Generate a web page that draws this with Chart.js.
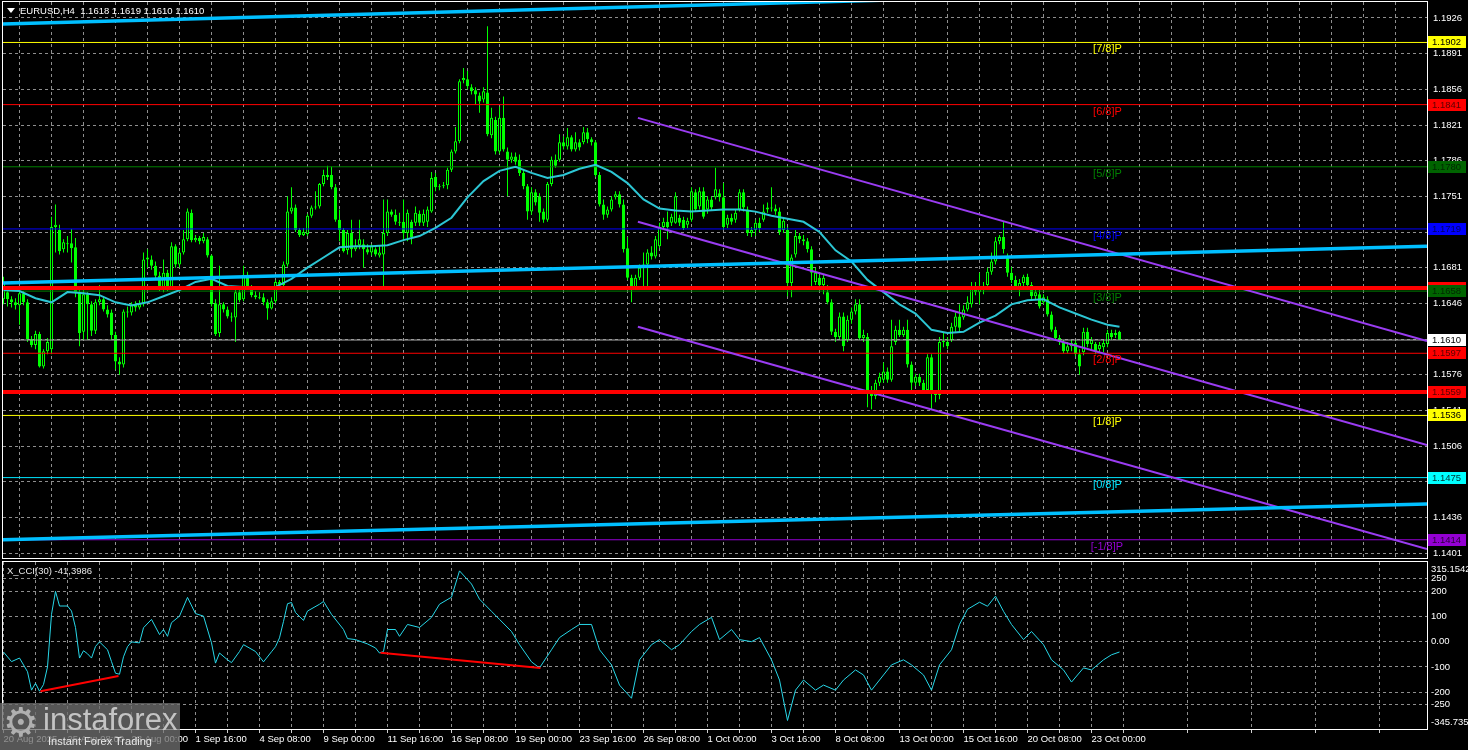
<!DOCTYPE html>
<html>
<head>
<meta charset="utf-8">
<title>EURUSD,H4</title>
<script src="https://cdn.jsdelivr.net/npm/chart.js@4.4.1/dist/chart.umd.min.js"></script>
<style>
  html, body { margin: 0; padding: 0; background: #000; }
  #wrap { position: relative; width: 1468px; height: 750px; overflow: hidden; background: #000; }
  #priceChart { position: absolute; left: 0; top: 0; }
  #cciChart { position: absolute; left: 0; top: 560px; }
  .txt { position: absolute; color: #fff; font: 9.5px 'Liberation Sans', Arial, sans-serif; white-space: pre; }
  .tri { display: inline-block; width: 0; height: 0; border-left: 4px solid transparent; border-right: 4px solid transparent; border-top: 5px solid #fff; margin-right: 5px; vertical-align: 1px; }
  #logo { position: absolute; left: 0; top: 703px; width: 180px; height: 47px; background: rgba(110, 110, 110, 0.78); }
  #logo .gear { position: absolute; left: 3px; top: -4px; font: 40px 'DejaVu Sans', sans-serif; color: #b0b0b0; }
  #logo .brand { position: absolute; left: 43px; top: -1px; font: 31px 'Liberation Sans', Arial, sans-serif; color: #c4c4c4; }
  #logo .tag { position: absolute; left: 48px; top: 32px; font: 11px 'Liberation Sans', Arial, sans-serif; color: #e8e8e8; }
</style>
</head>
<body>
<div id="wrap">
  <canvas id="priceChart" width="1468" height="560"></canvas>
  <canvas id="cciChart" width="1468" height="190"></canvas>
  <div class="txt" style="left:7px; top:5px;"><span class="tri"></span>EURUSD,H4  1.1618 1.1619 1.1610 1.1610</div>
  <div class="txt" style="left:7px; top:565px; color:#e8e8e8;">X_CCI(30) -41,3986</div>
  <div id="logo"><span class="gear">⚙</span><span class="brand">instaforex</span><span class="tag">Instant Forex Trading</span></div>
</div>
<script>
// H4 candles (bar 0 = 20 Aug 2025 16:00)
const opens = [
  1.1650,1.1657,1.1650,1.1647,1.1644,1.1656,1.1647,1.1611,1.1605,1.1616,
  1.1584,1.1599,1.1601,1.1721,1.1718,1.1699,1.1705,1.1705,1.1701,1.1657,
  1.1618,1.1655,1.1645,1.1619,1.1647,1.1650,1.1640,1.1637,1.1615,1.1589,
  1.1586,1.1638,1.1637,1.1645,1.1642,1.1645,1.1689,1.1689,1.1683,1.1673,
  1.1662,1.1676,1.1662,1.1702,1.1684,1.1696,1.1709,1.1735,1.1708,1.1710,
  1.1707,1.1709,1.1693,1.1646,1.1617,1.1645,1.1640,1.1633,1.1632,1.1657,
  1.1650,1.1674,1.1662,1.1654,1.1652,1.1652,1.1647,1.1641,1.1648,1.1667,
  1.1664,1.1684,1.1736,1.1740,1.1718,1.1713,1.1714,1.1732,1.1740,1.1741,
  1.1763,1.1772,1.1772,1.1760,1.1728,1.1718,1.1698,1.1715,1.1699,1.1703,
  1.1704,1.1699,1.1696,1.1699,1.1693,1.1694,1.1715,1.1736,1.1733,1.1726,
  1.1726,1.1715,1.1726,1.1725,1.1734,1.1725,1.1726,1.1736,1.1770,1.1760,
  1.1761,1.1762,1.1777,1.1795,1.1805,1.1865,1.1866,1.1858,1.1855,1.1850,
  1.1846,1.1853,1.1811,1.1826,1.1795,1.1828,1.1795,1.1787,1.1790,1.1787,
  1.1774,1.1761,1.1736,1.1755,1.1751,1.1736,1.1728,1.1763,1.1787,1.1787,
  1.1804,1.1800,1.1809,1.1797,1.1804,1.1804,1.1814,1.1807,1.1804,1.1772,
  1.1743,1.1733,1.1738,1.1750,1.1753,1.1743,1.1700,1.1671,1.1662,1.1671,
  1.1681,1.1684,1.1696,1.1692,1.1702,1.1721,1.1726,1.1725,1.1725,1.1730,
  1.1728,1.1723,1.1728,1.1755,1.1741,1.1756,1.1738,1.1748,1.1750,1.1754,
  1.1750,1.1723,1.1730,1.1728,1.1738,1.1755,1.1738,1.1715,1.1718,1.1725,
  1.1728,1.1738,1.1740,1.1739,1.1736,1.1718,1.1718,1.1666,1.1694,1.1712,
  1.1709,1.1707,1.1699,1.1667,1.1671,1.1664,1.1657,1.1647,1.1618,1.1613,
  1.1633,1.1610,1.1630,1.1638,1.1645,1.1612,1.1613,1.1561,1.1555,1.1568,
  1.1571,1.1579,1.1571,1.1608,1.1620,1.1615,1.1620,1.1586,1.1568,1.1574,
  1.1568,1.1561,1.1593,1.1557,1.1556,1.1608,1.1608,1.1610,1.1623,1.1633,
  1.1632,1.1640,1.1645,1.1662,1.1657,1.1660,1.1664,1.1677,1.1687,1.1707,
  1.1711,1.1692,1.1676,1.1669,1.1662,1.1666,1.1672,1.1664,1.1653,1.1655,
  1.1647,1.1650,1.1635,1.1620,1.1612,1.1608,1.1599,1.1604,1.1607,1.1596,
  1.1598,1.1618,1.1606,1.1606,1.1601,1.1603,1.1606,1.1617,1.1615,1.1618
];
const highs = [
  1.1672,1.1662,1.1653,1.1651,1.1658,1.1658,1.1650,1.1614,1.1619,1.1618,
  1.1601,1.1612,1.1731,1.1743,1.1723,1.1709,1.1712,1.1719,1.1710,1.1660,
  1.1660,1.1657,1.1648,1.1650,1.1664,1.1652,1.1644,1.1640,1.1618,1.1593,
  1.1640,1.1643,1.1647,1.1648,1.1649,1.1696,1.1699,1.1693,1.1687,1.1677,
  1.1689,1.1679,1.1706,1.1704,1.1699,1.1718,1.1739,1.1738,1.1713,1.1712,
  1.1715,1.1711,1.1694,1.1650,1.1683,1.1647,1.1643,1.1637,1.1660,1.1660,
  1.1683,1.1677,1.1664,1.1658,1.1657,1.1656,1.1650,1.1652,1.1669,1.1669,
  1.1687,1.1751,1.1760,1.1743,1.1720,1.1720,1.1734,1.1742,1.1756,1.1764,
  1.1777,1.1781,1.1780,1.1763,1.1738,1.1720,1.1718,1.1728,1.1709,1.1728,
  1.1709,1.1704,1.1704,1.1701,1.1703,1.1748,1.1748,1.1738,1.1738,1.1735,
  1.1748,1.1738,1.1728,1.1741,1.1737,1.1738,1.1741,1.1775,1.1774,1.1763,
  1.1765,1.1779,1.1797,1.1819,1.1866,1.1877,1.1874,1.1861,1.1858,1.1853,
  1.1858,1.1918,1.1838,1.1829,1.1839,1.1849,1.1799,1.1794,1.1794,1.1792,
  1.1777,1.1763,1.1760,1.1758,1.1754,1.1739,1.1765,1.1790,1.1792,1.1812,
  1.1810,1.1818,1.1811,1.1814,1.1807,1.1819,1.1818,1.1809,1.1806,1.1775,
  1.1748,1.1741,1.1751,1.1756,1.1756,1.1748,1.1711,1.1674,1.1674,1.1684,
  1.1696,1.1699,1.1702,1.1712,1.1725,1.1730,1.1736,1.1734,1.1755,1.1733,
  1.1731,1.1730,1.1760,1.1758,1.1760,1.1760,1.1751,1.1751,1.1779,1.1758,
  1.1764,1.1733,1.1734,1.1738,1.1758,1.1758,1.1741,1.1721,1.1728,1.1730,
  1.1743,1.1745,1.1760,1.1743,1.1740,1.1730,1.1721,1.1694,1.1718,1.1715,
  1.1713,1.1710,1.1702,1.1681,1.1674,1.1674,1.1664,1.1650,1.1621,1.1637,
  1.1637,1.1634,1.1642,1.1650,1.1650,1.1620,1.1617,1.1565,1.1571,1.1578,
  1.1588,1.1583,1.1630,1.1624,1.1630,1.1623,1.1630,1.1589,1.1577,1.1577,
  1.1571,1.1596,1.1596,1.1560,1.1613,1.1617,1.1613,1.1627,1.1637,1.1645,
  1.1644,1.1653,1.1667,1.1667,1.1676,1.1667,1.1681,1.1696,1.1711,1.1713,
  1.1726,1.1695,1.1682,1.1673,1.1670,1.1674,1.1675,1.1667,1.1660,1.1659,
  1.1655,1.1653,1.1638,1.1623,1.1615,1.1610,1.1608,1.1610,1.1610,1.1601,
  1.1622,1.1622,1.1613,1.1608,1.1608,1.1610,1.1620,1.1620,1.1620,1.1619
];
const lows = [
  1.1645,1.1643,1.1642,1.1640,1.1625,1.1644,1.1608,1.1603,1.1601,1.1583,
  1.1582,1.1596,1.1596,1.1696,1.1694,1.1696,1.1696,1.1686,1.1652,1.1604,
  1.1610,1.1610,1.1614,1.1616,1.1644,1.1638,1.1632,1.1610,1.1581,1.1576,
  1.1583,1.1632,1.1634,1.1638,1.1640,1.1643,1.1681,1.1679,1.1669,1.1658,
  1.1657,1.1658,1.1660,1.1681,1.1681,1.1694,1.1707,1.1706,1.1706,1.1704,
  1.1705,1.1691,1.1643,1.1614,1.1613,1.1637,1.1631,1.1628,1.1608,1.1647,
  1.1648,1.1660,1.1652,1.1650,1.1650,1.1644,1.1630,1.1640,1.1646,1.1662,
  1.1662,1.1682,1.1734,1.1716,1.1711,1.1712,1.1712,1.1730,1.1738,1.1739,
  1.1761,1.1767,1.1758,1.1726,1.1707,1.1696,1.1694,1.1691,1.1697,1.1699,
  1.1681,1.1694,1.1693,1.1692,1.1691,1.1661,1.1712,1.1731,1.1723,1.1722,
  1.1707,1.1707,1.1704,1.1722,1.1722,1.1722,1.1721,1.1735,1.1756,1.1757,
  1.1759,1.1758,1.1775,1.1793,1.1803,1.1862,1.1856,1.1851,1.1841,1.1833,
  1.1843,1.1810,1.1808,1.1792,1.1793,1.1795,1.1751,1.1784,1.1782,1.1771,
  1.1758,1.1728,1.1733,1.1742,1.1726,1.1725,1.1726,1.1761,1.1779,1.1785,
  1.1797,1.1797,1.1795,1.1795,1.1796,1.1802,1.1803,1.1801,1.1770,1.1741,
  1.1728,1.1730,1.1736,1.1748,1.1740,1.1696,1.1669,1.1647,1.1660,1.1669,
  1.1662,1.1662,1.1689,1.1690,1.1700,1.1718,1.1709,1.1722,1.1724,1.1722,
  1.1718,1.1720,1.1726,1.1736,1.1738,1.1729,1.1734,1.1737,1.1748,1.1746,
  1.1718,1.1720,1.1723,1.1725,1.1736,1.1736,1.1712,1.1711,1.1712,1.1716,
  1.1726,1.1735,1.1736,1.1733,1.1713,1.1715,1.1653,1.1652,1.1691,1.1705,
  1.1703,1.1696,1.1660,1.1664,1.1661,1.1655,1.1645,1.1615,1.1608,1.1611,
  1.1599,1.1608,1.1626,1.1635,1.1610,1.1608,1.1544,1.1542,1.1552,1.1565,
  1.1568,1.1568,1.1569,1.1605,1.1613,1.1613,1.1583,1.1561,1.1565,1.1565,
  1.1557,1.1559,1.1542,1.1549,1.1552,1.1603,1.1601,1.1608,1.1618,1.1617,
  1.1630,1.1638,1.1642,1.1654,1.1645,1.1655,1.1660,1.1674,1.1684,1.1704,
  1.1695,1.1672,1.1666,1.1660,1.1653,1.1660,1.1661,1.1650,1.1650,1.1641,
  1.1645,1.1633,1.1618,1.1610,1.1605,1.1597,1.1597,1.1599,1.1594,1.1576,
  1.1595,1.1603,1.1601,1.1596,1.1598,1.1598,1.1603,1.1610,1.1612,1.1610
];
const closes = [
  1.1666,1.1650,1.1647,1.1644,1.1656,1.1647,1.1611,1.1605,1.1616,1.1584,
  1.1599,1.1608,1.1721,1.1723,1.1697,1.1706,1.1704,1.1700,1.1657,1.1617,
  1.1655,1.1645,1.1619,1.1647,1.1650,1.1640,1.1635,1.1615,1.1589,1.1586,
  1.1638,1.1637,1.1645,1.1642,1.1645,1.1689,1.1691,1.1683,1.1673,1.1662,
  1.1676,1.1662,1.1702,1.1684,1.1696,1.1709,1.1736,1.1708,1.1710,1.1707,
  1.1711,1.1693,1.1645,1.1616,1.1645,1.1640,1.1633,1.1632,1.1657,1.1649,
  1.1674,1.1662,1.1654,1.1652,1.1651,1.1647,1.1641,1.1648,1.1667,1.1664,
  1.1684,1.1736,1.1740,1.1718,1.1713,1.1716,1.1732,1.1740,1.1741,1.1763,
  1.1772,1.1770,1.1760,1.1728,1.1718,1.1697,1.1715,1.1699,1.1702,1.1709,
  1.1699,1.1696,1.1702,1.1694,1.1696,1.1715,1.1736,1.1733,1.1726,1.1725,
  1.1715,1.1735,1.1711,1.1735,1.1725,1.1734,1.1738,1.1769,1.1760,1.1761,
  1.1762,1.1777,1.1795,1.1805,1.1864,1.1867,1.1859,1.1854,1.1851,1.1844,
  1.1854,1.1812,1.1828,1.1795,1.1828,1.1797,1.1787,1.1790,1.1785,1.1774,
  1.1761,1.1736,1.1755,1.1745,1.1735,1.1728,1.1763,1.1787,1.1781,1.1804,
  1.1800,1.1809,1.1797,1.1804,1.1799,1.1814,1.1807,1.1804,1.1772,1.1743,
  1.1733,1.1738,1.1748,1.1753,1.1743,1.1699,1.1671,1.1662,1.1671,1.1681,
  1.1684,1.1696,1.1692,1.1709,1.1721,1.1726,1.1721,1.1731,1.1751,1.1725,
  1.1720,1.1727,1.1756,1.1738,1.1756,1.1731,1.1748,1.1740,1.1758,1.1750,
  1.1721,1.1730,1.1726,1.1735,1.1755,1.1740,1.1715,1.1718,1.1725,1.1720,
  1.1736,1.1740,1.1739,1.1736,1.1716,1.1727,1.1666,1.1691,1.1712,1.1709,
  1.1707,1.1699,1.1676,1.1676,1.1664,1.1671,1.1647,1.1618,1.1613,1.1633,
  1.1604,1.1630,1.1638,1.1645,1.1612,1.1615,1.1561,1.1555,1.1568,1.1574,
  1.1579,1.1571,1.1604,1.1620,1.1615,1.1620,1.1586,1.1568,1.1574,1.1568,
  1.1561,1.1593,1.1557,1.1556,1.1608,1.1609,1.1604,1.1623,1.1633,1.1622,
  1.1640,1.1647,1.1662,1.1657,1.1660,1.1663,1.1677,1.1687,1.1707,1.1711,
  1.1699,1.1676,1.1669,1.1662,1.1666,1.1672,1.1664,1.1653,1.1657,1.1643,
  1.1652,1.1635,1.1620,1.1612,1.1608,1.1599,1.1604,1.1607,1.1596,1.1584,
  1.1618,1.1606,1.1610,1.1599,1.1605,1.1607,1.1617,1.1613,1.1617,1.1610
];

// moving average (turquoise), sampled every 4 bars
const maBars = [0,4,8,12,16,20,24,28,32,36,40,44,48,52,56,60,64,68,72,76,80,84,88,92,96,100,104,108,112,116,120,124,128,132,136,140,144,148,152,156,160,164,168,172,176,180,184,188,192,196,200,204,208,212,216,220,224,228,232,236,240,244,248,252,256,260,264,268,272,276,279];
const maValues = [1.1659,1.1658,1.1651,1.1647,1.1657,1.1656,1.1654,1.1647,1.1644,1.1647,1.1653,1.1659,1.1667,1.1670,1.1663,1.1662,1.1662,1.1662,1.1670,1.1681,1.1691,1.1701,1.1702,1.1702,1.1703,1.1708,1.1712,1.1720,1.1730,1.1750,1.1766,1.1776,1.1780,1.1774,1.1769,1.1772,1.1778,1.1782,1.1775,1.1764,1.1748,1.1739,1.1737,1.1736,1.1737,1.1738,1.1738,1.1736,1.1732,1.1729,1.1726,1.1716,1.1698,1.1687,1.1669,1.1657,1.1645,1.1636,1.1620,1.1617,1.1618,1.1627,1.1634,1.1645,1.1649,1.1650,1.1642,1.1636,1.1630,1.1625,1.1623];

// X_CCI(30)
const cciBars = [0,2,4,6,7,8,9,10,11,12,13,14,16,17,18,19,20,21,22,23,24,26,27,28,29,30,31,32,34,35,37,39,40,41,42,44,46,48,50,52,53,54,56,57,59,60,63,65,67,68,69,70,71,72,73,75,76,79,80,82,85,86,88,91,93,94,95,96,98,99,101,104,107,109,112,114,117,119,122,124,127,129,132,134,137,139,142,144,147,149,152,154,157,159,162,164,167,169,172,174,177,179,182,184,187,189,192,194,196,198,200,203,205,208,210,213,215,217,220,222,225,227,230,232,234,237,239,241,244,246,248,250,252,255,257,260,262,265,267,270,272,275,277,279];
const cciValues = [-41,-79,-65,-119,-192,-165,-196,-170,-100,108,199,141,141,121,56,-65,-36,-48,-65,-19,-1,-32,-79,-125,-129,-60,-20,-1,-5,55,88,28,48,21,75,101,175,111,101,-5,-85,-45,-72,-83,-39,-12,-39,-80,-40,-20,15,80,150,155,115,84,121,148,159,108,48,12,8,-9,-25,-45,-39,48,48,21,68,56,96,148,176,280,228,168,120,88,40,-12,-80,-104,-32,16,48,68,68,-32,-92,-172,-224,-72,-12,8,-32,-12,40,68,96,8,48,8,0,16,-72,-152,-312,-192,-152,-192,-172,-192,-152,-112,-132,-192,-132,-92,-72,-92,-132,-192,-92,-32,68,128,156,140,180,120,68,8,40,-12,-72,-112,-160,-104,-112,-72,-52,-41];
const divergenceBars = [[9.25, 28.75], [94.25, 134.25]];
const divergenceValues = [[-196, -136], [-44, -104]];

// levels
const murrayLevels = [1.1414, 1.1475, 1.1536, 1.1597, 1.1658, 1.1719, 1.1780, 1.1841, 1.1902];
const murrayNames = ['[-1/8]P', '[0/8]P', '[1/8]P', '[2/8]P', '[3/8]P', '[4/8]P', '[5/8]P', '[6/8]P', '[7/8]P'];
const redLevels = [1.1661, 1.1559];
const lastPrice = 1.1610;
const blueStart = [1.1920, 1.1666, 1.1414];
const blueEnd = [1.1958, 1.1702, 1.1449];
const channelStartBar = 158.6;
const channelStart = [1.1828, 1.1726, 1.1623];
const channelEnd = [1.1609, 1.1507, 1.1405];

// axes
const priceTicks = [1.1926, 1.1891, 1.1856, 1.1821, 1.1786, 1.1751, 1.1716, 1.1681, 1.1646, 1.1611, 1.1576, 1.1541, 1.1506, 1.1471, 1.1436, 1.1401];
const cciTicks = [250, 200, 100, 0, -100, -200, -250];
const cciRange = [-345.7358, 315.1542];
const timeLabels = ['20 Aug 2025', '25 Aug 08:00', '28 Aug 00:00', '1 Sep 16:00', '4 Sep 08:00', '9 Sep 00:00', '11 Sep 16:00', '16 Sep 08:00', '19 Sep 00:00', '23 Sep 16:00', '26 Sep 08:00', '1 Oct 00:00', '3 Oct 16:00', '8 Oct 08:00', '13 Oct 00:00', '15 Oct 16:00', '20 Oct 08:00', '23 Oct 00:00'];

const X_MIN = -0.125, X_MAX = 355.875;
const PRICE_MIN = 1.13961, PRICE_MAX = 1.19417;
const GRID = '#8e8e8e';
const LIME = '#00ff00';
const FONT = "'Liberation Sans', Arial, sans-serif";
const murrayColors = ['#9400d3', '#00e5ff', '#ffff00', '#ff0000', '#008000', '#0000ff', '#008000', '#ff0000', '#ffff00'];

Chart.defaults.font.family = FONT;
Chart.defaults.font.size = 9.5;

const gridBars = [];
for (let b = 0; b <= 352; b += 8) gridBars.push(b);

function seg(x0, y0, x1, y1, color, width, order) {
    return {
        type: 'line',
        data: [{ x: x0, y: y0 }, { x: x1, y: y1 }],
        borderColor: color,
        borderWidth: width,
        pointRadius: 0,
        order: order || 1,
        clip: 0
    };
}

// keep the plot area exactly where the axis boxes leave it
function fitBox(size, key) {
    return s => {
        s[key] = size;
        s.paddingTop = 0; s.paddingBottom = 0; s.paddingLeft = 0; s.paddingRight = 0;
    };
}

function frame(chart) {
    const a = chart.chartArea;
    const ctx = chart.ctx;
    ctx.save();
    ctx.strokeStyle = '#ffffff';
    ctx.lineWidth = 1;
    ctx.strokeRect(a.left - 0.5, a.top - 0.5, a.right - a.left + 1, a.bottom - a.top + 1);
    ctx.restore();
}

function priceBox(chart, value, bg, fg, text) {
    const y = Math.round(chart.scales.y.getPixelForValue(value));
    const x = chart.chartArea.right + 1;
    const ctx = chart.ctx;
    ctx.fillStyle = bg;
    ctx.fillRect(x, y - 6, 38, 12);
    ctx.fillStyle = fg;
    ctx.font = '9.5px ' + FONT;
    ctx.textBaseline = 'middle';
    ctx.textAlign = 'left';
    ctx.fillText(text, x + 4, y + 0.5);
}

const priceOverlay = {
    id: 'priceOverlay',
    afterDraw(chart) {
        const ctx = chart.ctx;
        const xs = chart.scales.x, ys = chart.scales.y;
        frame(chart);
        ctx.save();
        // murray labels
        ctx.font = '11px ' + FONT;
        ctx.textBaseline = 'middle';
        ctx.textAlign = 'left';
        murrayLevels.forEach((lv, i) => {
            ctx.fillStyle = murrayColors[i];
            const tx = xs.getPixelForValue(i === 0 ? 271.8 : 272.4);
            ctx.fillText(murrayNames[i], tx, ys.getPixelForValue(lv) + 7);
        });
        // price boxes on the axis
        priceBox(chart, 1.1902, '#ffff00', '#000000', '1.1902');
        priceBox(chart, 1.1841, '#ff0000', '#5a0000', '1.1841');
        priceBox(chart, 1.1780, '#006400', '#002800', '1.1780');
        priceBox(chart, 1.1719, '#0000ff', '#000060', '1.1719');
        priceBox(chart, redLevels[0], '#ff0000', '#5a0000', redLevels[0].toFixed(4));
        priceBox(chart, 1.1658, '#006400', '#002800', '1.1658');
        priceBox(chart, 1.1597, '#ff0000', '#5a0000', '1.1597');
        priceBox(chart, lastPrice, '#ffffff', '#000000', lastPrice.toFixed(4));
        priceBox(chart, redLevels[1], '#ff0000', '#5a0000', redLevels[1].toFixed(4));
        priceBox(chart, 1.1536, '#ffff00', '#000000', '1.1536');
        priceBox(chart, 1.1475, '#00ffff', '#003030', '1.1475');
        priceBox(chart, 1.1414, '#9400d3', '#2a003a', '1.1414');
        ctx.restore();
    }
};

const cciOverlay = {
    id: 'cciOverlay',
    afterDraw(chart) {
        const ctx = chart.ctx;
        const a = chart.chartArea;
        frame(chart);
        ctx.save();
        ctx.fillStyle = '#ffffff';
        ctx.font = '9.5px ' + FONT;
        ctx.textAlign = 'left';
        ctx.textBaseline = 'middle';
        ctx.fillText(cciRange[1].toFixed(4), a.right + 4, a.top + 7);
        ctx.fillText(cciRange[0].toFixed(4), a.right + 4, a.bottom - 7);
        ctx.restore();
    }
};

// main price panel
const priceDatasets = [
    {
        label: 'wicks',
        data: lows.map((l, i) => ({ x: i, y: [l, highs[i]] })),
        backgroundColor: LIME,
        borderWidth: 0,
        barThickness: 1,
        grouped: false,
        inflateAmount: 0,
        order: 11
    },
    {
        label: 'bodies',
        data: opens.map((o, i) => ({ x: i, y: [o, closes[i]] })),
        backgroundColor: opens.map((o, i) => closes[i] > o ? '#000000' : LIME),
        borderColor: LIME,
        borderWidth: 1,
        borderSkipped: false,
        barThickness: 3,
        minBarLength: 1,
        grouped: false,
        inflateAmount: 0,
        order: 10
    },
    {
        type: 'line',
        data: maBars.map((b, i) => ({ x: b, y: maValues[i] })),
        borderColor: '#2cc6d4',
        borderWidth: 2,
        pointRadius: 0,
        order: 3
    }
];
murrayLevels.forEach((lv, i) => priceDatasets.push(seg(X_MIN, lv, X_MAX, lv, murrayColors[i], 1, 4)));
redLevels.forEach(lv => priceDatasets.push(seg(X_MIN, lv, X_MAX, lv, '#ff0000', 4, 2)));
priceDatasets.push(seg(X_MIN, lastPrice, X_MAX, lastPrice, '#a8a8a8', 1, 5));
blueStart.forEach((v, i) => priceDatasets.push(seg(X_MIN, v, X_MAX, blueEnd[i], '#00bfff', 3.5, 2)));
channelStart.forEach((v, i) => priceDatasets.push(seg(channelStartBar, v, X_MAX, channelEnd[i], '#9a3cf2', 2, 2)));

new Chart(document.getElementById('priceChart'), {
    type: 'bar',
    data: { datasets: priceDatasets },
    options: {
        responsive: false,
        animation: false,
        events: [],
        layout: { padding: { left: 3, top: 2, right: 0, bottom: 2 } },
        plugins: { legend: { display: false }, tooltip: { enabled: false } },
        scales: {
            x: {
                type: 'linear', min: X_MIN, max: X_MAX, offset: false,
                grid: { color: GRID, drawTicks: false },
                border: { display: false, dash: [3, 3] },
                ticks: { display: false },
                afterBuildTicks: s => { s.ticks = gridBars.map(v => ({ value: v })); },
                afterFit: fitBox(0, 'height')
            },
            y: {
                position: 'right', min: PRICE_MIN, max: PRICE_MAX,
                grid: { color: GRID, drawTicks: false },
                border: { display: false, dash: [3, 3] },
                ticks: { color: '#ffffff', padding: 6, callback: v => v.toFixed(4) },
                afterBuildTicks: s => { s.ticks = priceTicks.map(v => ({ value: v })); },
                afterFit: fitBox(41, 'width')
            }
        }
    },
    plugins: [priceOverlay]
});

// CCI panel
const cciDatasets = [
    {
        data: cciBars.map((b, i) => ({ x: b, y: cciValues[i] })),
        borderColor: '#27d7e8',
        borderWidth: 1,
        pointRadius: 0,
        order: 2
    }
];
divergenceBars.forEach((bars, i) => cciDatasets.push(seg(bars[0], divergenceValues[i][0], bars[1], divergenceValues[i][1], '#ff0000', 2, 1)));

new Chart(document.getElementById('cciChart'), {
    type: 'line',
    data: { datasets: cciDatasets },
    options: {
        responsive: false,
        animation: false,
        events: [],
        layout: { padding: { left: 3, top: 2, right: 0, bottom: 0 } },
        plugins: { legend: { display: false }, tooltip: { enabled: false } },
        scales: {
            x: {
                type: 'linear', min: X_MIN, max: X_MAX, offset: false,
                grid: { color: GRID, drawTicks: true, tickLength: 4, tickColor: '#cfcfcf', tickBorderDash: [] },
                border: { display: false, dash: [3, 3] },
                ticks: {
                    color: '#ffffff', padding: 1, autoSkip: false, maxRotation: 0, align: 'start',
                    callback: v => (v % 16 === 0 ? timeLabels[v / 16] : '')
                },
                afterBuildTicks: s => { s.ticks = gridBars.map(v => ({ value: v })); },
                afterFit: fitBox(21, 'height')
            },
            y: {
                position: 'right', min: cciRange[0], max: cciRange[1],
                grid: { color: GRID, drawTicks: false },
                border: { display: false, dash: [3, 3] },
                ticks: { color: '#ffffff', padding: 4, callback: v => (v === 0 ? '0.00' : String(v)) },
                afterBuildTicks: s => { s.ticks = cciTicks.map(v => ({ value: v })); },
                afterFit: fitBox(41, 'width')
            }
        }
    },
    plugins: [cciOverlay]
});
</script>
</body>
</html>
